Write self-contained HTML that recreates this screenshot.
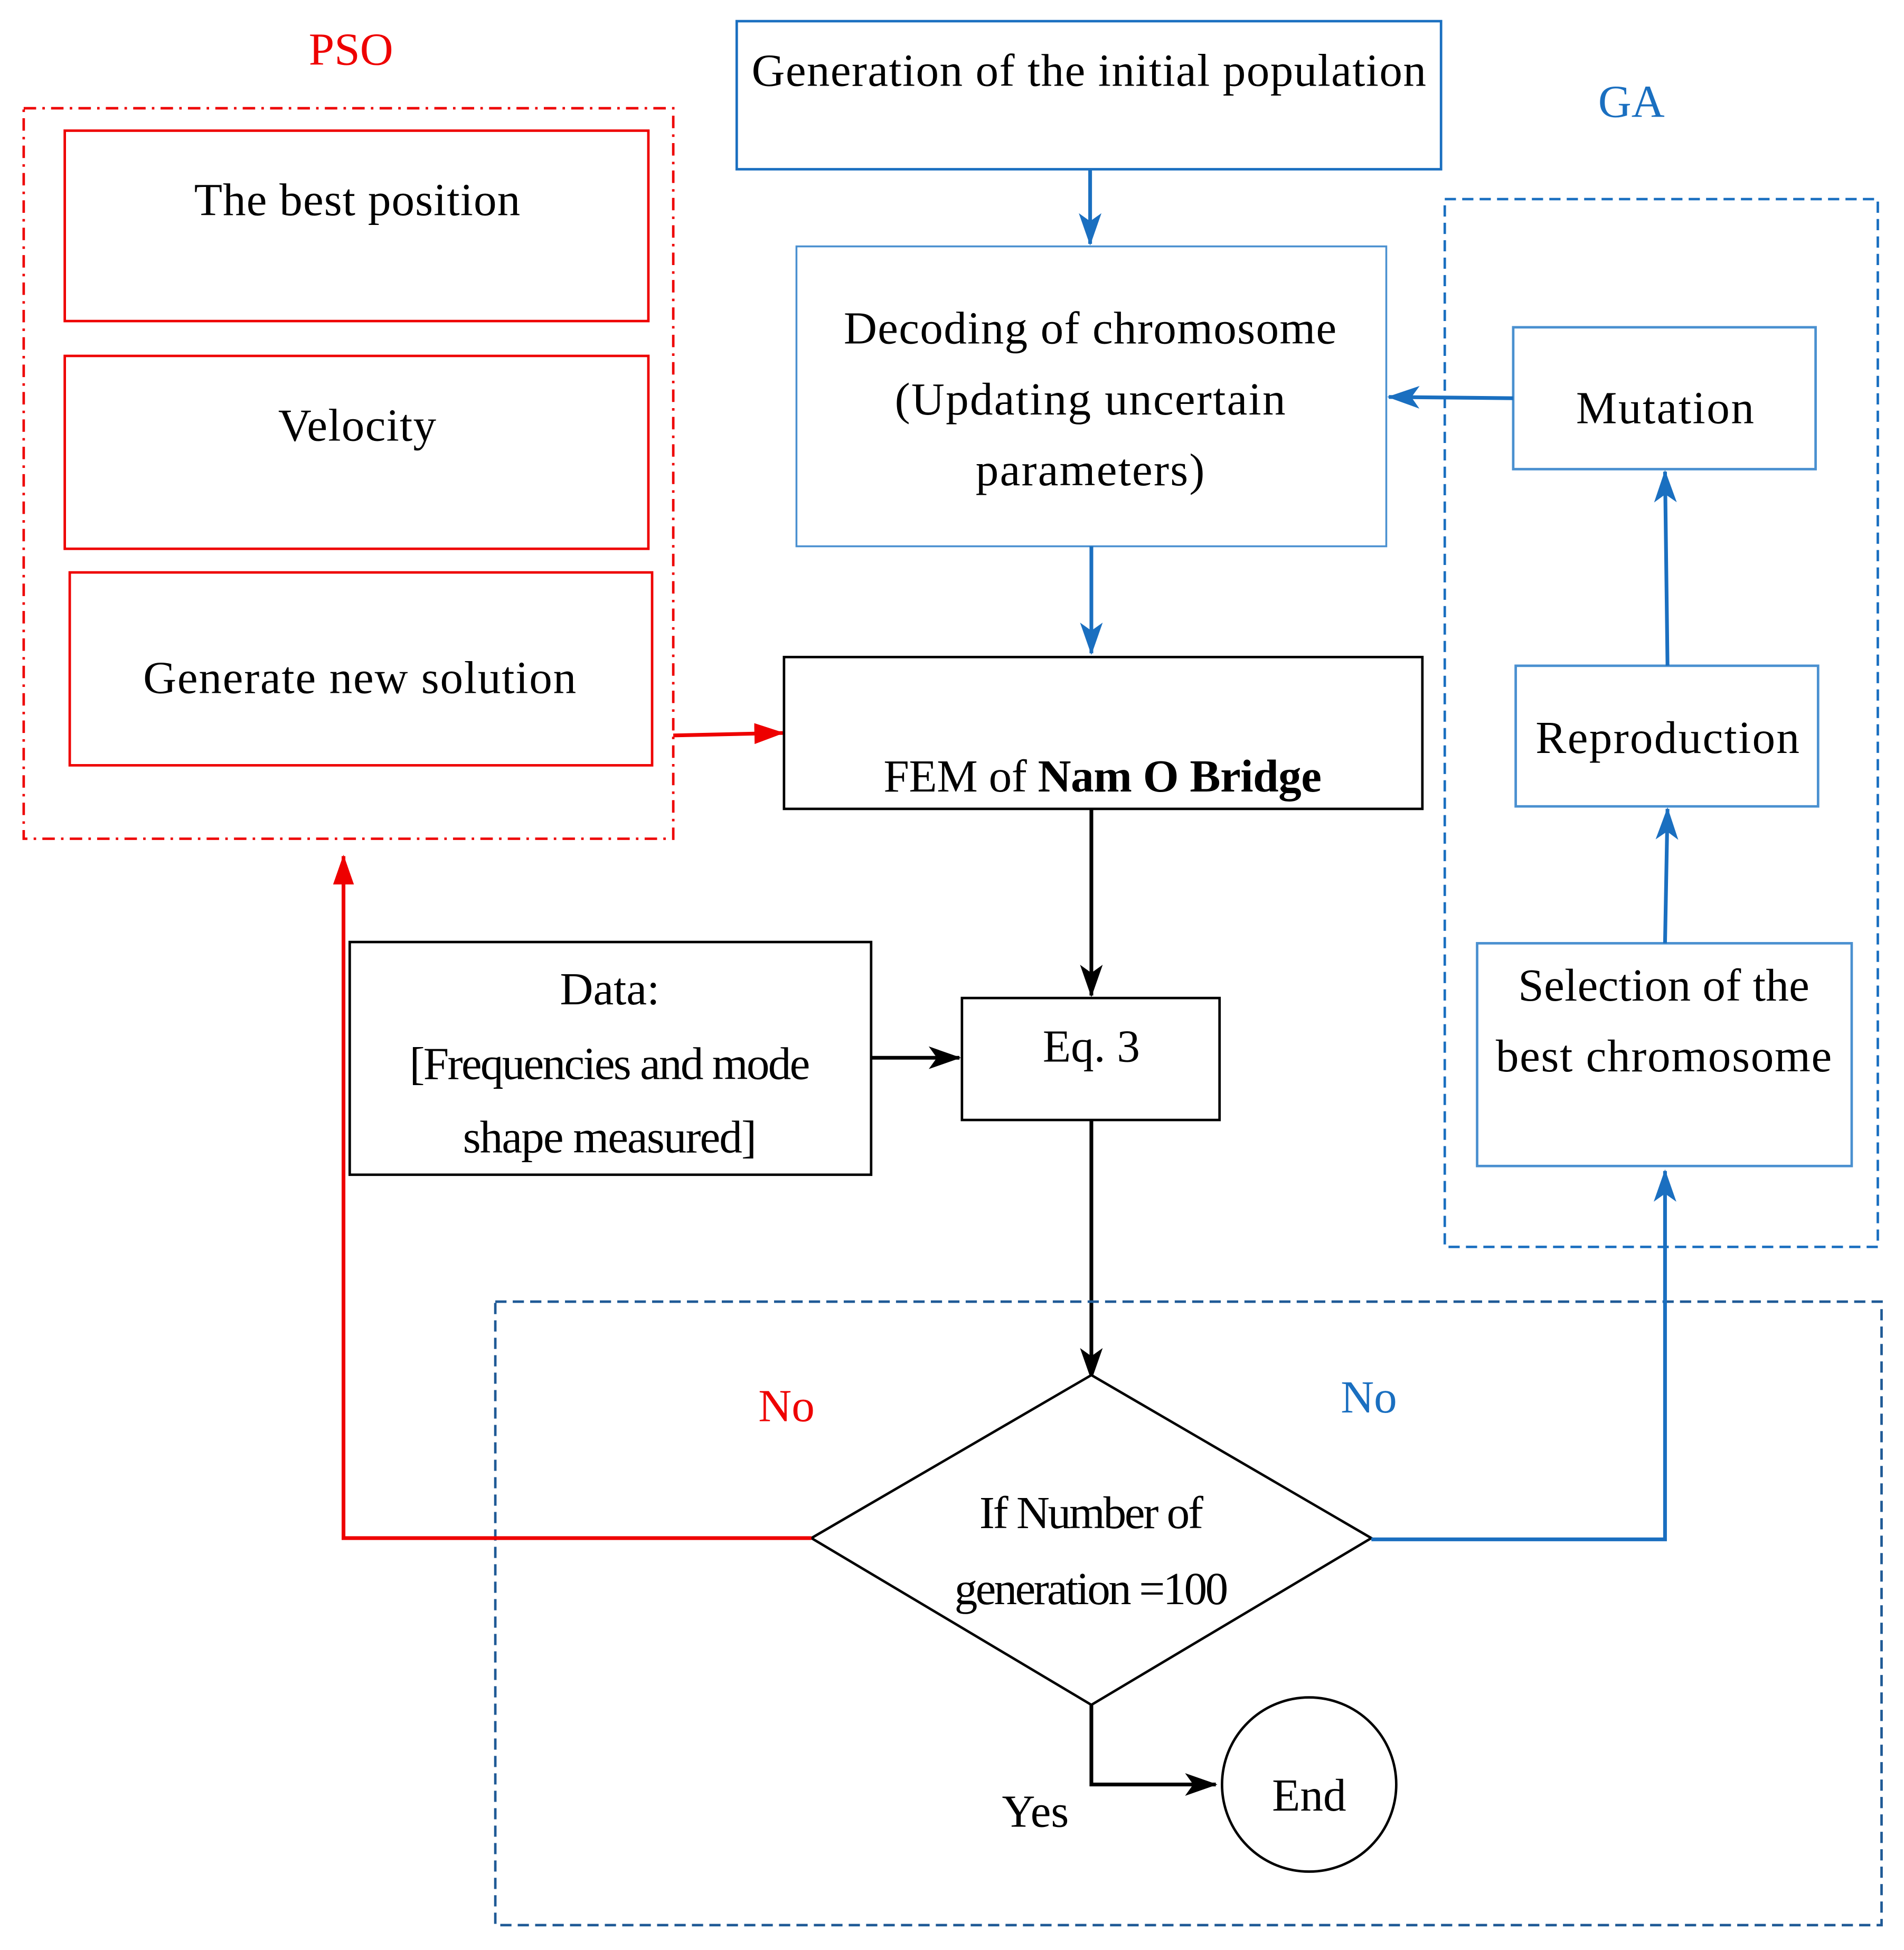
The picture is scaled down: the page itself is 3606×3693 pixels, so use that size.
<!DOCTYPE html>
<html><head><meta charset="utf-8"><style>
html,body{margin:0;padding:0;background:#fff;}
svg{display:block;}
text{font-family:"Liberation Serif",serif;font-size:37px;text-anchor:middle;}
</style></head><body>
<svg width="3606" height="3693" viewBox="0 0 1530 1567" xmlns="http://www.w3.org/2000/svg">
<defs>
<marker id="ab" viewBox="0 0 20 20" refX="19" refY="10" markerWidth="26" markerHeight="26" markerUnits="userSpaceOnUse" orient="auto"><path d="M0,3 L20,10 L0,17 L5,10 Z" fill="#000"/></marker>
<marker id="abl" viewBox="0 0 20 20" refX="19" refY="10" markerWidth="26" markerHeight="26" markerUnits="userSpaceOnUse" orient="auto"><path d="M0,3 L20,10 L0,17 L5,10 Z" fill="#1a6fc0"/></marker>
<marker id="ar" viewBox="0 0 20 20" refX="19" refY="10" markerWidth="24" markerHeight="24" markerUnits="userSpaceOnUse" orient="auto"><path d="M0,3 L20,10 L0,17 Z" fill="#e00"/></marker>
</defs>
<g fill="none">
<rect x="19" y="87" width="522" height="587" stroke="#e00" stroke-width="2" stroke-dasharray="10,5,2,5"/>
<rect x="52" y="105" width="469" height="153" stroke="#e00" stroke-width="2"/>
<rect x="52" y="286" width="469" height="155" stroke="#e00" stroke-width="2"/>
<rect x="56" y="460" width="468" height="155" stroke="#e00" stroke-width="2"/>
<line x1="541" y1="591" x2="629" y2="589" stroke="#e00" stroke-width="3" marker-end="url(#ar)"/>
<rect x="592" y="17" width="566" height="119" stroke="#1a6fc0" stroke-width="2"/>
<line x1="876" y1="136" x2="876" y2="196" stroke="#1a6fc0" stroke-width="3" marker-end="url(#abl)"/>
<rect x="640" y="198" width="474" height="241" stroke="#4a90d0" stroke-width="1.5"/>
<line x1="877" y1="439" x2="877" y2="525" stroke="#1a6fc0" stroke-width="3" marker-end="url(#abl)"/>
<rect x="630" y="528" width="513" height="122" stroke="#000" stroke-width="2"/>
<line x1="877" y1="650" x2="877" y2="800" stroke="#000" stroke-width="3" marker-end="url(#ab)"/>
<rect x="773" y="802" width="207" height="98" stroke="#000" stroke-width="2"/>
<rect x="281" y="757" width="419" height="187" stroke="#000" stroke-width="2"/>
<line x1="700" y1="850" x2="771" y2="850" stroke="#000" stroke-width="3" marker-end="url(#ab)"/>
<line x1="877" y1="900" x2="877" y2="1108" stroke="#000" stroke-width="3" marker-end="url(#ab)"/>
<rect x="398" y="1046" width="1114" height="501" stroke="#1f5a96" stroke-width="2" stroke-dasharray="9,5"/>
<polygon points="877,1105 1102,1236 877,1370 652,1236" stroke="#000" stroke-width="2" fill="#fff"/>
<polyline points="652,1236 276,1236 276,688" stroke="#e00" stroke-width="3" marker-end="url(#ar)"/>
<polyline points="1102,1237 1338,1237 1338,941" stroke="#1a6fc0" stroke-width="3" marker-end="url(#abl)"/>
<polyline points="877,1370 877,1434 977,1434" stroke="#000" stroke-width="3" marker-end="url(#ab)"/>
<circle cx="1052" cy="1434" r="70" stroke="#000" stroke-width="2"/>
<rect x="1161" y="160" width="348" height="842" stroke="#1a6fc0" stroke-width="2" stroke-dasharray="9,5"/>
<rect x="1216" y="263" width="243" height="114" stroke="#4a90d0" stroke-width="2"/>
<rect x="1218" y="535" width="243" height="113" stroke="#4a90d0" stroke-width="2"/>
<rect x="1187" y="758" width="301" height="179" stroke="#4a90d0" stroke-width="2"/>
<line x1="1216" y1="320" x2="1116" y2="319" stroke="#1a6fc0" stroke-width="3" marker-end="url(#abl)"/>
<line x1="1340" y1="535" x2="1338" y2="379" stroke="#1a6fc0" stroke-width="3" marker-end="url(#abl)"/>
<line x1="1338" y1="758" x2="1340" y2="650" stroke="#1a6fc0" stroke-width="3" marker-end="url(#abl)"/>
</g>
<g>
<text x="282" y="52" fill="#e00" font-size="34">PSO</text>
<text x="1311" y="94" fill="#1a6fc0" font-size="34">GA</text>
<text x="287" y="173" textLength="262">The best position</text>
<text x="287" y="354" textLength="127">Velocity</text>
<text x="289" y="557" textLength="348">Generate new solution</text>
<text x="875" y="69" textLength="542">Generation of the initial population</text>
<text x="876" y="276" textLength="396">Decoding of chromosome</text>
<text x="876" y="333" textLength="314">(Updating uncertain</text>
<text x="876" y="390" textLength="184">parameters)</text>
<text x="886" y="636" textLength="352">FEM of <tspan font-weight="bold">Nam O Bridge</tspan></text>
<text x="877" y="853">Eq. 3</text>
<text x="490" y="807" font-size="33">Data:</text>
<text x="490" y="867" font-size="33" textLength="322">[Frequencies and mode</text>
<text x="490" y="926" font-size="33" textLength="236">shape measured]</text>
<text x="1338" y="340" textLength="143">Mutation</text>
<text x="1340" y="605" textLength="212">Reproduction</text>
<text x="1337" y="804" textLength="234">Selection of the</text>
<text x="1337" y="861" textLength="270">best chromosome</text>
<text x="632" y="1142" fill="#e00">No</text>
<text x="1100" y="1135" fill="#1a6fc0">No</text>
<text x="877" y="1228" font-size="33" textLength="180">If Number of</text>
<text x="877" y="1289" font-size="33" textLength="220">generation =100</text>
<text x="832" y="1468">Yes</text>
<text x="1052" y="1455">End</text>
</g>
</svg>
</body></html>
